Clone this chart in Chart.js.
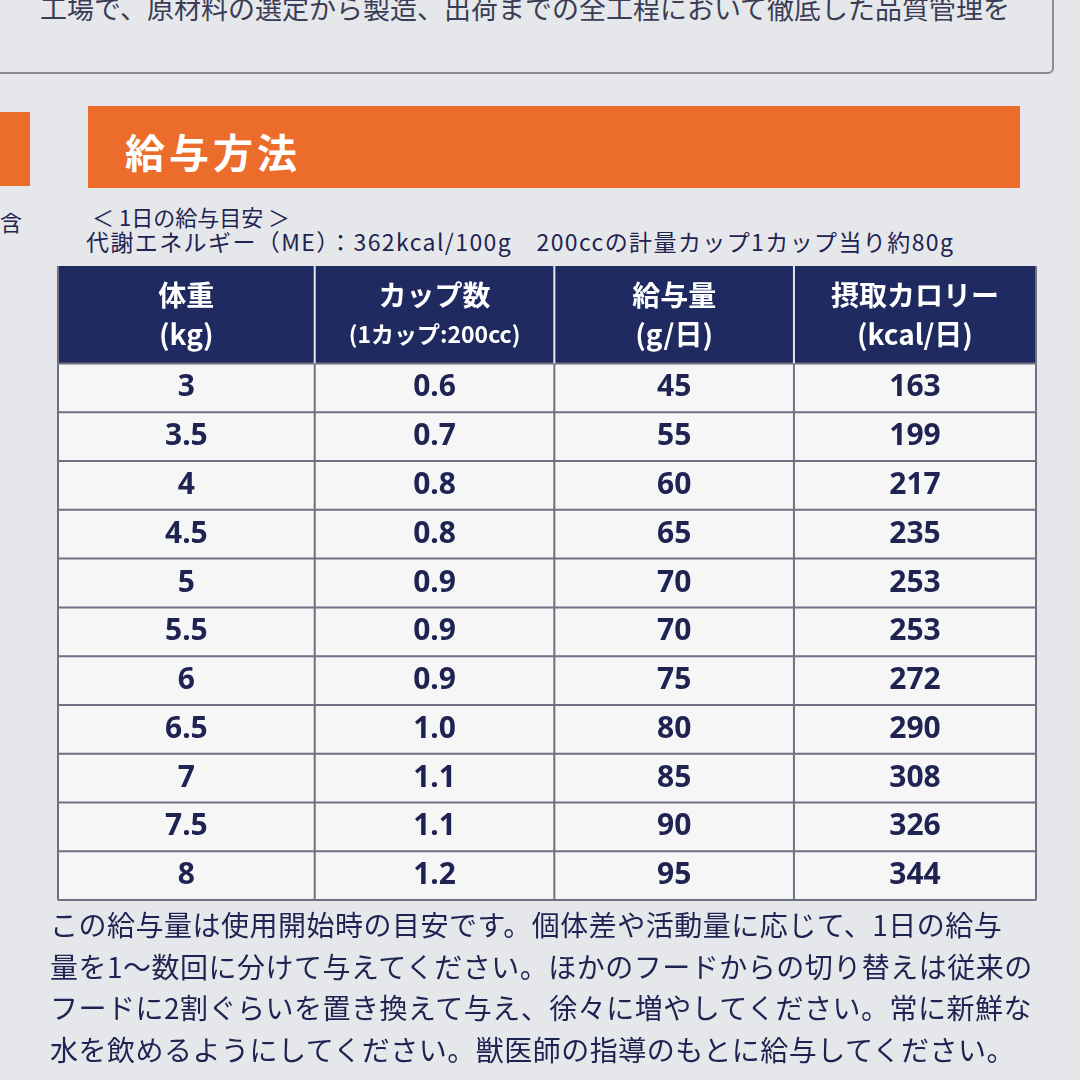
<!DOCTYPE html>
<html><head><meta charset="utf-8">
<script src="https://cdn.jsdelivr.net/npm/chart.js@4"></script>
<style>
body{margin:0;width:1080px;height:1080px;background:#e6e7ea;position:relative;overflow:hidden;font-family:"Noto Sans CJK JP","Noto Sans",sans-serif;color:#1e2352}
.abs{position:absolute;white-space:nowrap}
#c{position:absolute;left:0;top:0}
</style></head><body>
<div class="abs" style="left:-10px;top:-30px;width:1060px;height:100px;border:2px solid #8a8c95;border-radius:6px"></div>
<div class="abs" style="left:40px;top:-12px;font-size:27px;color:#3a3d55">工場で、原材料の選定から製造、出荷までの全工程において徹底した品質管理を</div>
<div class="abs" style="left:0;top:112px;width:30px;height:74px;background:#ec6c2c"></div>
<div class="abs" style="left:88px;top:106px;width:932px;height:82px;background:#ec6c2c"></div>
<div class="abs" style="left:125px;top:122px;font-size:40px;font-weight:bold;color:#fff;letter-spacing:4px">給与方法</div>
<div class="abs" style="left:0;top:205px;font-size:22px">含</div>
<div class="abs" style="left:92px;top:200px;font-size:22px">＜ 1日の給与目安 ＞</div>
<div class="abs" style="left:86px;top:224px;font-size:23px;letter-spacing:1.4px">代謝エネルギー（ME）：362kcal/100g　200ccの計量カップ1カップ当り約80g</div>
<canvas id="c" width="1080" height="1080"></canvas>
<div class="abs" style="left:50px;top:904px;font-size:28px;line-height:41.5px;letter-spacing:0.5px">この給与量は使用開始時の目安です。個体差や活動量に応じて、1日の給与<br>量を1～数回に分けて与えてください。ほかのフードからの切り替えは従来の<br>フードに2割ぐらいを置き換えて与え、徐々に増やしてください。常に新鮮な<br>水を飲めるようにしてください。獣医師の指導のもとに給与してください。</div>
<script>
const headers = [['体重', '(kg)'], ['カップ数', '(1カップ:200cc)'], ['給与量', '(g/日)'], ['摂取カロリー', '(kcal/日)']];
const weights = ['3', '3.5', '4', '4.5', '5', '5.5', '6', '6.5', '7', '7.5', '8'];
const cups = ['0.6', '0.7', '0.8', '0.8', '0.9', '0.9', '0.9', '1.0', '1.1', '1.1', '1.2'];
const grams = [45, 55, 60, 65, 70, 70, 75, 80, 85, 90, 95];
const kcal = [163, 199, 217, 235, 253, 253, 272, 290, 308, 326, 344];
const colEdges = [0, 1.05, 2.03, 3.01, 4]; // column boundaries in x units

const columns = [weights, cups, grams, kcal];
const headRows = 2; // header occupies 2 row units

const tablePlugin = {
    id: 'table',
    beforeDatasetsDraw(chart) {
        const c = chart.ctx, xs = chart.scales.x, ys = chart.scales.y;
        const X = v => xs.getPixelForValue(v), Y = v => ys.getPixelForValue(v);
        const mid = k => X((colEdges[k] + colEdges[k + 1]) / 2);
        const total = headRows + weights.length;
        c.save();
        c.fillStyle = '#f6f6f7';
        c.fillRect(X(0), Y(0), X(4) - X(0), Y(total) - Y(0));
        c.fillStyle = '#1f2a60';
        c.fillRect(X(0), Y(0), X(4) - X(0), Y(headRows) - Y(0));
        c.strokeStyle = '#6e7184';
        c.lineWidth = 2;
        for (let r = headRows; r <= total; r++) {
            c.beginPath(); c.moveTo(X(0), Y(r)); c.lineTo(X(4), Y(r)); c.stroke();
        }
        colEdges.forEach((e, k) => {
            c.strokeStyle = (k === 0 || k === 4) ? '#6e7184' : '#e6e7ea';
            c.beginPath(); c.moveTo(X(e), Y(0)); c.lineTo(X(e), Y(headRows)); c.stroke();
            c.strokeStyle = '#6e7184';
            c.beginPath(); c.moveTo(X(e), Y(headRows)); c.lineTo(X(e), Y(total)); c.stroke();
        });
        c.textAlign = 'center'; c.textBaseline = 'middle';
        headers.forEach((h, k) => {
            c.fillStyle = '#fff';
            c.font = 'bold 28px "Noto Sans CJK JP"';
            c.fillText(h[0], mid(k), Y(0.6));
            c.font = (k === 1 ? 'bold 23px' : 'bold 28px') + ' "Noto Sans CJK JP"';
            c.fillText(h[1], mid(k), Y(1.4));
        });
        c.fillStyle = '#1e2352';
        c.font = 'bold 30px "Noto Sans","DejaVu Sans"';
        columns.forEach((col, k) => {
            col.forEach((v, r) => c.fillText(String(v), mid(k), Y(headRows + r + 0.5)));
        });
        c.restore();
    }
};

new Chart(document.getElementById('c').getContext('2d'), {
    type: 'scatter',
    data: { datasets: [{ data: [], pointRadius: 0 }] },
    options: {
        responsive: false,
        animation: false,
        layout: { padding: { left: 58, right: 44, top: 266, bottom: 180 } },
        scales: {
            x: { type: 'linear', min: 0, max: 4, display: false },
            y: { type: 'linear', min: 0, max: 13, reverse: true, display: false }
        },
        plugins: { legend: { display: false }, tooltip: { enabled: false } }
    },
    plugins: [tablePlugin]
});
</script>
</body></html>
